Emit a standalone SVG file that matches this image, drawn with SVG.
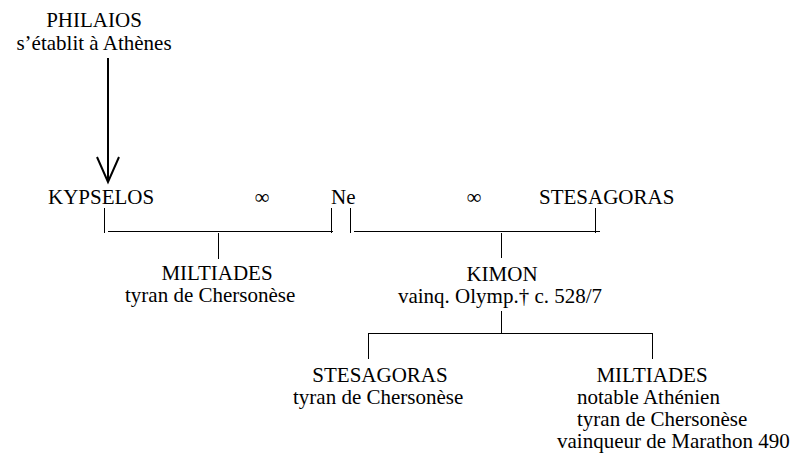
<svg xmlns="http://www.w3.org/2000/svg" width="798" height="459" viewBox="0 0 798 459">
<style>
text{font-family:"Liberation Serif","Times New Roman",serif;font-size:21px;fill:#000}
.m{text-anchor:middle}
.ln{stroke:#000;stroke-width:1;fill:none}
.ar{stroke:#000;stroke-width:2;fill:none}
</style>
<rect width="798" height="459" fill="#fff"/>
<g id="philaios">
<text class="m" x="94" y="27">PHILAIOS</text>
<text class="m" x="94" y="50">s’établit à Athènes</text>
</g>
<g id="kypselos"><text x="48" y="204">KYPSELOS</text></g>
<g id="marriage1"><text class="m" x="262" y="204">∞</text></g>
<g id="ne"><text x="331" y="204">Ne</text></g>
<g id="marriage2"><text class="m" x="474" y="204">∞</text></g>
<g id="stesagoras1"><text x="539" y="204">STESAGORAS</text></g>
<g id="miltiades1">
<text class="m" x="217" y="280">MILTIADES</text>
<text x="125" y="302">tyran de Chersonèse</text>
</g>
<g id="kimon">
<text class="m" x="502" y="281">KIMON</text>
<text class="m" x="500" y="303">vainq. Olymp.† c. 528/7</text>
</g>
<g id="stesagoras2">
<text class="m" x="380" y="382">STESAGORAS</text>
<text x="293" y="404">tyran de Chersonèse</text>
</g>
<g id="miltiades2">
<text class="m" x="652" y="382">MILTIADES</text>
<text x="577" y="404">notable Athénien</text>
<text x="577" y="426">tyran de Chersonèse</text>
<text x="557" y="448">vainqueur de Marathon 490</text>
</g>
<g id="connectors">
<line class="ar" x1="108" y1="58" x2="108" y2="181"/>
<polyline class="ar" points="97,157 108,182 119,157"/>
<line class="ln" x1="104.5" y1="208" x2="104.5" y2="233"/>
<line class="ln" x1="108" y1="231.5" x2="333" y2="231.5"/>
<line class="ln" x1="331.5" y1="208" x2="331.5" y2="233"/>
<line class="ln" x1="218.5" y1="233" x2="218.5" y2="259"/>
<line class="ln" x1="350.5" y1="208" x2="350.5" y2="233"/>
<line class="ln" x1="354" y1="231.5" x2="600" y2="231.5"/>
<line class="ln" x1="595.5" y1="208" x2="595.5" y2="233"/>
<line class="ln" x1="501.5" y1="233" x2="501.5" y2="258"/>
<line class="ln" x1="501.5" y1="311" x2="501.5" y2="333"/>
<line class="ln" x1="368" y1="333.5" x2="653" y2="333.5"/>
<line class="ln" x1="368.5" y1="333" x2="368.5" y2="359"/>
<line class="ln" x1="652.5" y1="333" x2="652.5" y2="359"/>
</g>
</svg>
